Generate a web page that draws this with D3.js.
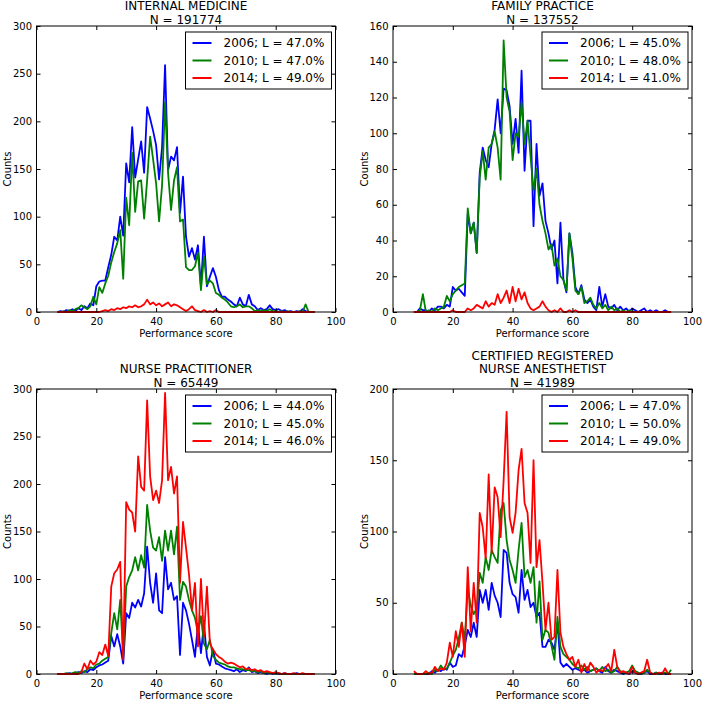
<!DOCTYPE html>
<html><head><meta charset="utf-8">
<script src="https://cdn.jsdelivr.net/npm/d3@7"></script>
<style>body{margin:0;background:#fff}svg{display:block}text{font-family:"DejaVu Sans",sans-serif;fill:#000}</style>
</head><body><svg id="c" width="702" height="701"></svg>
<script>
// ---------- DATA ----------
const scores = d3.range(7, 94); // performance score bins 7..93
const years = ["2006", "2010", "2014"];
const seriesColors = ["#0000ff", "#008000", "#ff0000"];
const xTicks = [0, 20, 40, 60, 80, 100];

// Internal medicine
const imTitle = ["INTERNAL MEDICINE", "N = 191774"];
const imLegend = ["2006; L = 47.0%", "2010; L = 47.0%", "2014; L = 49.0%"];
const imYTicks = [0, 50, 100, 150, 200, 250, 300];
const im2006 = [0,1,0,2,1,3,1,4,2,6, 4,9,7,27,32,33,33,47,60,79, 75,100,80,156,136,194,141,160,179,146, 215,203,190,175,139,173,259,149,163,159, 173,104,142,79,58,67,55,70,27,79, 27,37,46,37,23,16,16,13,11,8, 6,15,8,6,18,8,6,2,4,2, 3,7,3,2,3,1,2,0,1,0, 1,0,3,1,0,0,0];
const im2010 = [0,0,1,0,2,1,3,4,7,5, 3,6,16,8,26,20,30,38,52,63, 72,86,35,120,91,167,105,137,138,98, 138,184,160,135,95,133,220,146,107,138, 152,95,97,47,44,44,48,62,23,58, 29,33,30,20,18,15,13,10,6,5, 6,8,5,6,6,4,1,2,1,2, 1,3,1,1,0,1,0,1,0,0, 0,1,0,8,0,0,0];
const im2014 = [0,0,0,0,0,0,0,0,0,0, 0,0,0,0,0,1,2,1,3,2, 4,3,5,4,6,5,7,5,6,8, 13,8,10,7,9,6,8,10,6,8, 7,5,3,1,3,6,2,1,0,2, 0,1,0,2,0,0,0,0,0,0, 0,0,0,0,0,0,0,0,0,0, 0,0,0,0,0,0,0,0,0,0, 0,0,0,0,0,0,0];

// Family practice
const fpTitle = ["FAMILY PRACTICE", "N = 137552"];
const fpLegend = ["2006; L = 45.0%", "2010; L = 48.0%", "2014; L = 41.0%"];
const fpYTicks = [0, 20, 40, 60, 80, 100, 120, 140, 160];
const fp2006 = [0,0,2,1,1,0,2,1,3,3, 2,4,3,14,12,13,11,9,55,44, 50,33,78,92,85,81,94,102,119,100, 125,124,115,94,108,89,135,79,107,107, 48,94,65,72,51,44,35,40,16,50, 18,11,44,33,14,10,15,7,5,7, 3,1,14,3,10,3,2,4,1,3, 1,2,0,2,1,0,1,2,0,1, 0,1,0,0,1,0,0];
const fp2010 = [0,0,1,10,0,1,0,2,1,2, 3,9,6,10,12,14,15,16,58,44, 50,33,75,90,74,92,94,101,92,74, 152,120,112,85,100,98,117,94,107,87, 68,80,60,51,44,35,38,26,30,20, 18,12,44,30,12,10,14,5,6,8, 4,2,5,2,4,1,3,1,2,0, 1,0,1,0,0,0,0,0,0,0, 0,0,0,0,0,0,0];
const fp2014 = [0,0,0,0,0,0,0,0,0,0, 0,0,0,1,0,0,0,0,2,1, 2,4,3,2,6,3,5,4,10,5, 8,12,5,14,6,13,7,11,5,2, 1,2,3,6,3,1,0,1,0,2, 0,0,1,0,1,0,0,0,0,0, 0,0,0,0,0,0,0,0,0,0, 0,0,0,0,0,0,0,0,0,0, 0,0,0,0,0,0,0];

// Nurse practitioner
const npTitle = ["NURSE PRACTITIONER", "N = 65449"];
const npLegend = ["2006; L = 44.0%", "2010; L = 45.0%", "2014; L = 46.0%"];
const npYTicks = [0, 50, 100, 150, 200, 250, 300];
const np2006 = [0,0,0,0,1,0,1,2,1,3, 2,5,4,7,9,10,12,14,40,29, 42,29,11,64,59,75,70,78,71,85, 134,96,75,106,67,64,123,89,96,78, 82,20,75,67,53,36,18,53,22,53, 18,9,26,11,10,8,6,5,4,3, 5,2,4,3,7,2,3,1,2,1, 0,1,0,1,0,0,1,0,0,0, 1,0,0,0,0,0,0];
const np2010 = [0,0,0,1,0,1,2,1,3,2, 5,7,6,10,11,14,16,18,43,64, 47,78,18,92,102,109,123,109,125,112, 178,151,133,130,144,119,151,130,151,126, 155,78,97,92,78,67,59,43,61,32, 26,36,19,15,12,11,10,8,7,7, 6,5,5,4,4,3,3,2,3,1, 2,1,1,0,1,0,0,0,0,0, 0,0,0,0,0,0,0];
const np2014 = [0,0,0,0,0,0,0,0,2,11, 5,14,10,13,23,20,31,19,92,106, 110,118,15,181,173,170,150,229,197,193, 288,208,183,193,180,204,296,204,218,190, 208,96,160,133,105,67,96,29,100,39, 92,32,26,21,18,16,13,11,12,11, 9,7,8,5,6,4,5,3,4,2, 3,2,1,2,1,0,1,0,0,1, 0,0,1,0,0,0,0];

// Certified registered nurse anesthetist
const crTitle = ["CERTIFIED REGISTERED", "NURSE ANESTHETIST", "N = 41989"];
const crLegend = ["2006; L = 47.0%", "2010; L = 50.0%", "2014; L = 49.0%"];
const crYTicks = [0, 50, 100, 150, 200];
const cr2006 = [0,0,0,0,0,0,2,1,3,2, 4,3,8,5,6,14,12,20,31,26, 36,26,59,50,59,45,64,55,50,40, 87,85,64,56,54,43,73,52,59,47, 50,40,43,19,19,24,22,17,36,8, 5,7,5,3,4,3,2,3,1,2, 3,4,2,1,5,2,1,3,2,1, 0,1,0,2,1,0,0,1,2,0, 0,1,0,1,0,0,0];
const cr2010 = [0,0,0,0,0,1,0,3,2,6, 3,4,8,13,17,25,36,24,60,48, 42,46,71,64,82,73,87,82,78,115, 120,94,80,73,64,87,106,68,73,64, 75,36,65,24,31,29,20,10,40,19, 14,12,10,7,5,4,6,3,5,2, 3,4,2,5,2,3,1,2,5,2, 1,1,2,6,2,1,0,1,3,1, 0,1,0,0,1,0,3];
const cr2014 = [2,0,0,0,2,0,1,5,2,4, 3,8,22,12,30,19,36,12,75,30, 64,36,113,103,81,140,85,131,124,96, 136,184,110,99,113,143,158,120,113,78, 150,75,94,64,31,50,24,26,73,29, 19,14,10,12,5,10,1,7,2,8, 5,1,3,2,4,7,2,17,5,1, 2,1,0,5,1,0,1,2,10,1, 0,0,1,0,4,0,0];

// ---------- LAYOUT ----------
const panels = [
  {title: imTitle, legend: imLegend, yTicks: imYTicks, yMax: 300, series: [im2006, im2010, im2014],
   left: 36.5, right: 335.5, top: 26, bottom: 312, counts: 7},
  {title: fpTitle, legend: fpLegend, yTicks: fpYTicks, yMax: 160, series: [fp2006, fp2010, fp2014],
   left: 393, right: 692, top: 26, bottom: 312, counts: 364},
  {title: npTitle, legend: npLegend, yTicks: npYTicks, yMax: 300, series: [np2006, np2010, np2014],
   left: 36.5, right: 335.5, top: 389, bottom: 674, counts: 7},
  {title: crTitle, legend: crLegend, yTicks: crYTicks, yMax: 200, series: [cr2006, cr2010, cr2014],
   left: 393, right: 692, top: 389, bottom: 674, counts: 364}
];

const svg = d3.select("#c");

panels.forEach(p => {
  const x = d3.scaleLinear().domain([0, 100]).range([p.left, p.right]);
  const y = d3.scaleLinear().domain([0, p.yMax]).range([p.bottom, p.top]);
  const g = svg.append("g");

  // series lines
  const line = d3.line().x((d, i) => x(scores[i])).y(d => y(d));
  p.series.forEach((s, k) => {
    g.append("path").datum(s).attr("d", line)
      .attr("fill", "none").attr("stroke", seriesColors[k])
      .attr("stroke-width", 1.8).attr("stroke-linejoin", "round");
  });

  // axes (ticks pointing inward)
  const bottomAxis = g.append("g").attr("transform", `translate(0,${p.bottom})`)
    .call(d3.axisBottom(x).tickValues(xTicks).tickSize(-4).tickPadding(5.5).tickFormat(d3.format("d")));
  const topAxis = g.append("g").attr("transform", `translate(0,${p.top})`)
    .call(d3.axisTop(x).tickValues(xTicks).tickSize(-4).tickFormat(""));
  const leftAxis = g.append("g").attr("transform", `translate(${p.left},0)`)
    .call(d3.axisLeft(y).tickValues(p.yTicks).tickSize(-4).tickPadding(4.5).tickFormat(d3.format("d")));
  const rightAxis = g.append("g").attr("transform", `translate(${p.right},0)`)
    .call(d3.axisRight(y).tickValues(p.yTicks).tickSize(-4).tickFormat(""));
  [bottomAxis, topAxis, leftAxis, rightAxis].forEach(a => {
    a.select(".domain").remove();
    a.selectAll("line").attr("stroke", "#000");
    a.selectAll("text").attr("font-size", 10).attr("font-family", "DejaVu Sans").attr("fill", "#000");
  });

  // frame
  g.append("rect").attr("x", p.left).attr("y", p.top)
    .attr("width", p.right - p.left).attr("height", p.bottom - p.top)
    .attr("fill", "none").attr("stroke", "#000").attr("stroke-width", 1);

  // title
  const cx = (p.left + p.right) / 2;
  const n = p.title.length;
  p.title.forEach((t, i) => {
    g.append("text").attr("x", cx).attr("y", p.top - 6.5 - (n - 1 - i) * 13.5)
      .attr("dy", "0.36em").attr("text-anchor", "middle").attr("font-size", 12).text(t);
  });

  // axis labels
  g.append("text").attr("x", cx).attr("y", p.bottom + 21).attr("dy", "0.36em")
    .attr("text-anchor", "middle").attr("font-size", 10).text("Performance score");
  g.append("text").attr("transform", `translate(${p.counts},${(p.top + p.bottom) / 2}) rotate(-90)`)
    .attr("dy", "0.36em").attr("text-anchor", "middle").attr("font-size", 10).text("Counts");

  // legend
  const lw = 146, lh = 57;
  const lx = p.right - 4 - lw, ly = p.top + 6;
  const lg = g.append("g");
  lg.append("rect").attr("x", lx).attr("y", ly).attr("width", lw).attr("height", lh)
    .attr("fill", "#fff").attr("stroke", "#000").attr("stroke-width", 1);
  p.legend.forEach((t, k) => {
    const yy = ly + 11 + k * 17.5;
    lg.append("line").attr("x1", lx + 7).attr("x2", lx + 26).attr("y1", yy).attr("y2", yy)
      .attr("stroke", seriesColors[k]).attr("stroke-width", 2);
    lg.append("text").attr("x", lx + 38).attr("y", yy).attr("dy", "0.36em")
      .attr("font-size", 12).text(t);
  });
});
</script>
</body></html>
